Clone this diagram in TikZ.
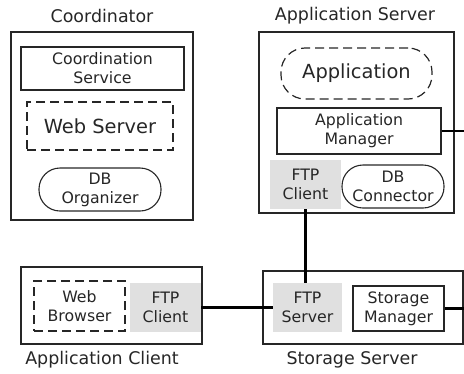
\documentclass[tikz,border=0pt]{standalone}
\usepackage{fontspec}
\setmainfont{DejaVu Sans}
\begin{document}
\begin{tikzpicture}[x=1bp,y=-1bp,
  every node/.style={inner sep=0pt, align=center, text=black!85},
  txt/.style={font=\fontsize{15.8}{19}\selectfont},
  bigtxt/.style={font=\fontsize{19.5}{22}\selectfont},
  ttl/.style={font=\fontsize{17.5}{20}\selectfont},
  outerbox/.style={draw=black!85, line width=1.1bp},
  solidbox/.style={draw=black!85, line width=1.1bp, txt},
  dashbox/.style={draw=black!85, line width=1.2bp, dash pattern=on 9bp off 5bp},
  pill/.style={draw=black!85, line width=1.1bp, rounded corners=21bp, txt},
  graybox/.style={fill=black!12, txt},
  conn/.style={draw=black, line width=2.2bp}
]
\useasboundingbox (0,0) rectangle (464,373);
% titles
\node[ttl] (tcoord) at (102,16) {Coordinator};
\node[ttl] (tapps) at (355,16) {Application Server};
\node[ttl] (tappc) at (102,360) {Application Client};
\node[ttl] (tstor) at (352,360) {Storage Server};
% Coordinator
\node[outerbox, minimum width=182bp, minimum height=188bp] (coord) at (102,126) {};
\node[solidbox, minimum width=163bp, minimum height=43bp] (coordsvc) at (102.5,68.5) {Coordination\\Service};
\node[dashbox, bigtxt, minimum width=146bp, minimum height=48bp] (websrv) at (100,126) {Web Server};
\node[pill, minimum width=122bp, minimum height=43bp] (dborg) at (100,189.5) {DB\\Organizer};
% Application Server
\node[outerbox, minimum width=195bp, minimum height=181bp] (appsrv) at (356.5,122.5) {};
\node[dashbox, bigtxt, rounded corners=24bp, minimum width=151bp, minimum height=51bp] (app) at (356.5,73.5) {Application};
\node[solidbox, minimum width=164bp, minimum height=46bp] (appmgr) at (359,131) {Application\\Manager};
\node[graybox, minimum width=71bp, minimum height=49bp] (ftpc1) at (305.5,184.5) {FTP\\Client};
\node[pill, minimum width=102bp, minimum height=43bp] (dbconn) at (393,186.5) {DB\\Connector};
% Application Client
\node[outerbox, minimum width=181bp, minimum height=77bp] (appcl) at (111.5,305.5) {};
\node[dashbox, txt, minimum width=91bp, minimum height=50bp] (webbr) at (79.5,306) {Web\\Browser};
\node[graybox, minimum width=71bp, minimum height=49bp] (ftpc2) at (165.5,307.5) {FTP\\Client};
% Storage Server
\node[outerbox, minimum width=200bp, minimum height=73bp] (stor) at (363,307.5) {};
\node[graybox, minimum width=69bp, minimum height=49bp] (ftps) at (307.5,307.5) {FTP\\Server};
\node[solidbox, minimum width=91bp, minimum height=45bp] (stmgr) at (398.5,308.5) {Storage\\Manager};
% connectors
\coordinate (amout) at (464,131);
\coordinate (smout) at (464,308.5);
\draw[conn] (ftpc1.south) -- (ftpc1.south |- ftps.north);
\draw[conn] (ftpc2.east) -- (ftps.west);
\draw[conn] (appmgr.east) -- (amout);
\draw[conn] (stmgr.east) -- (smout);
\end{tikzpicture}
\end{document}
